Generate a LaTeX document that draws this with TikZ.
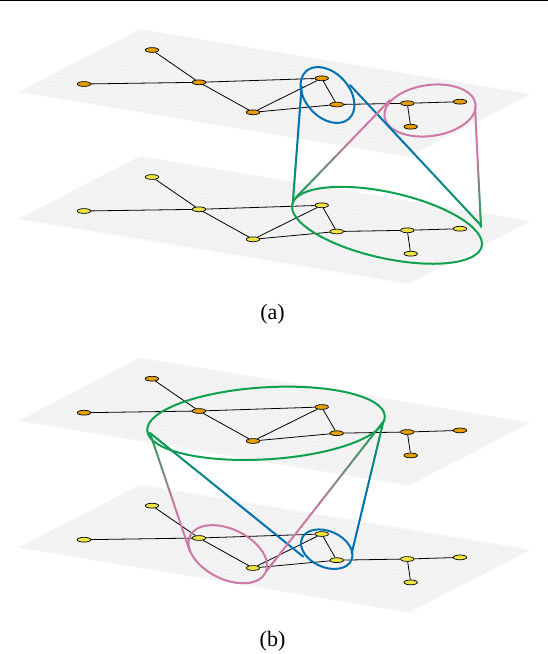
\documentclass[tikz,border=0pt]{standalone}
\usepackage{fontspec}
\setmainfont{Liberation Serif}
\usetikzlibrary{shapes.geometric}
\usetikzlibrary{calc}
\definecolor{oiblue}{HTML}{0072B2}
\definecolor{oipink}{HTML}{CC79A7}
\definecolor{oigreen}{HTML}{0FA04F}
\definecolor{oiorange}{HTML}{E69F00}
\definecolor{oiyellow}{HTML}{F0E442}
\tikzset{vert/.style = {draw, ellipse, inner sep=0, minimum width=13.5pt,
                        minimum height=4.8pt, line width=0.7pt}}
\tikzset{upv/.style = {vert, fill=oiorange}}
\tikzset{lowv/.style = {vert, fill=oiyellow}}
\tikzset{link/.style = {line width=0.8pt}}
\tikzset{planefill/.style = {fill=black!4}}
\tikzset{planegrid/.style = {draw=black!8, line width=0.2pt}}
\tikzset{ring/.style = {line width=2pt}}
\tikzset{cone/.style = {line width=2pt, line cap=round}}
\tikzset{caption/.style = {font=\fontsize{22}{26}\selectfont}}

% one plane with its graph: #1 prefix, #2 vertical offset, #3 vertex style
\newcommand{\graphlayer}[3]{%
  \begin{scope}[shift={(0,#2)}]
    \coordinate (#1L) at (18,92);
    \coordinate (#1T) at (140,29);
    \coordinate (#1R) at (531,94);
    \coordinate (#1B) at (409,157);
    \fill[planefill] (#1L) -- (#1T) -- (#1R) -- (#1B) -- cycle;
    \foreach \i in {1,...,26}
      \draw[planegrid] ($(#1L)!\i/27!(#1T)$) -- ($(#1B)!\i/27!(#1R)$);
    \foreach \i in {1,...,79}
      \draw[planegrid] ($(#1L)!\i/80!(#1B)$) -- ($(#1T)!\i/80!(#1R)$);
    \node[#3] (#11) at (152,50) {};
    \node[#3] (#12) at (84,84) {};
    \node[#3] (#13) at (199,82.3) {};
    \node[#3] (#14) at (253,112.3) {};
    \node[#3] (#15) at (321.7,78.3) {};
    \node[#3] (#16) at (336.7,104.5) {};
    \node[#3] (#17) at (407.3,103.3) {};
    \node[#3] (#18) at (460,101.7) {};
    \node[#3] (#19) at (410.7,126.7) {};
    \draw[link] (#11) -- (#13);
    \draw[link] (#12) -- (#13);
    \draw[link] (#13) -- (#15);
    \draw[link] (#13) -- (#14);
    \draw[link] (#14) -- (#15);
    \draw[link] (#15) -- (#16);
    \draw[link] (#14) -- (#16);
    \draw[link] (#16) -- (#17);
    \draw[link] (#17) -- (#18);
    \draw[link] (#17) -- (#19);
  \end{scope}}

% line from a fine cluster (#1) to the green cluster (#2), colour #3 fading to green
\newcommand{\gradline}[3]{%
  \foreach \k in {0,...,39}{
    \pgfmathtruncatemacro{\pc}{max(0,min(100,(((\k+0.5)/40)-0.4)/0.6*100))}
    \draw[cone, color=oigreen!\pc!#3]
      ($(#1)!\k/40!(#2)$) -- ($(#1)!{(\k+1)/40}!(#2)$);
  }}

\begin{document}
\begin{tikzpicture}[x=1pt,y=-1pt]
  \useasboundingbox (0,0) rectangle (548,654);
  \fill (0,0) rectangle (548,1.2);

  % (a)
  \graphlayer{au}{0}{upv}
  \graphlayer{al}{127}{lowv}
  \coordinate (abc) at (327.5,95);
  \coordinate (apc) at (430,110.5);
  \coordinate (agc) at (387,225.3);
  \draw[ring, oiblue] (abc) ellipse [x radius=32pt, y radius=22pt, rotate=-48];
  \draw[ring, oipink] (apc) ellipse [x radius=46pt, y radius=25.5pt, rotate=8];
  \draw[ring, oigreen] (agc) ellipse [x radius=97pt, y radius=33pt, rotate=-12.5];
  \coordinate (ab1) at (301.7,86);
  \coordinate (ab2) at (350,85);
  \coordinate (ap1) at (390,100);
  \coordinate (ap2) at (475,107);
  \coordinate (ag1) at (292.7,204);
  \coordinate (ag2) at (481.5,226);
  \coordinate (ag3) at (295,198.5);
  \coordinate (ag4) at (481,227);
  \gradline{ab1}{ag1}{oiblue}
  \gradline{ab2}{ag2}{oiblue}
  \gradline{ap1}{ag3}{oipink}
  \gradline{ap2}{ag4}{oipink}
  \node[caption] (capa) at (272.5,314.5) {(a)};

  % (b)
  \graphlayer{bu}{328.7}{upv}
  \graphlayer{bl}{455.7}{lowv}
  \coordinate (bgc) at (266,423.3);
  \coordinate (bpc) at (227.8,554.2);
  \coordinate (bbc) at (326.7,549.2);
  \draw[ring, oigreen] (bgc) ellipse [x radius=119pt, y radius=36pt, rotate=3.5];
  \draw[ring, oipink] (bpc) ellipse [x radius=42pt, y radius=25pt, rotate=-26];
  \draw[ring, oiblue] (bbc) ellipse [x radius=27pt, y radius=18pt, rotate=-24];
  \coordinate (bg1) at (150,433);
  \coordinate (bg2) at (383.3,421.7);
  \coordinate (bp1) at (190,551.7);
  \coordinate (bp2) at (266,571.7);
  \coordinate (bb1) at (303.3,556.7);
  \coordinate (bb2) at (351.7,553.3);
  \gradline{bp1}{bg1}{oipink}
  \gradline{bb1}{bg1}{oiblue}
  \gradline{bp2}{bg2}{oipink}
  \gradline{bb2}{bg2}{oiblue}
  \node[caption] (capb) at (272.5,641) {(b)};
\end{tikzpicture}
\end{document}
